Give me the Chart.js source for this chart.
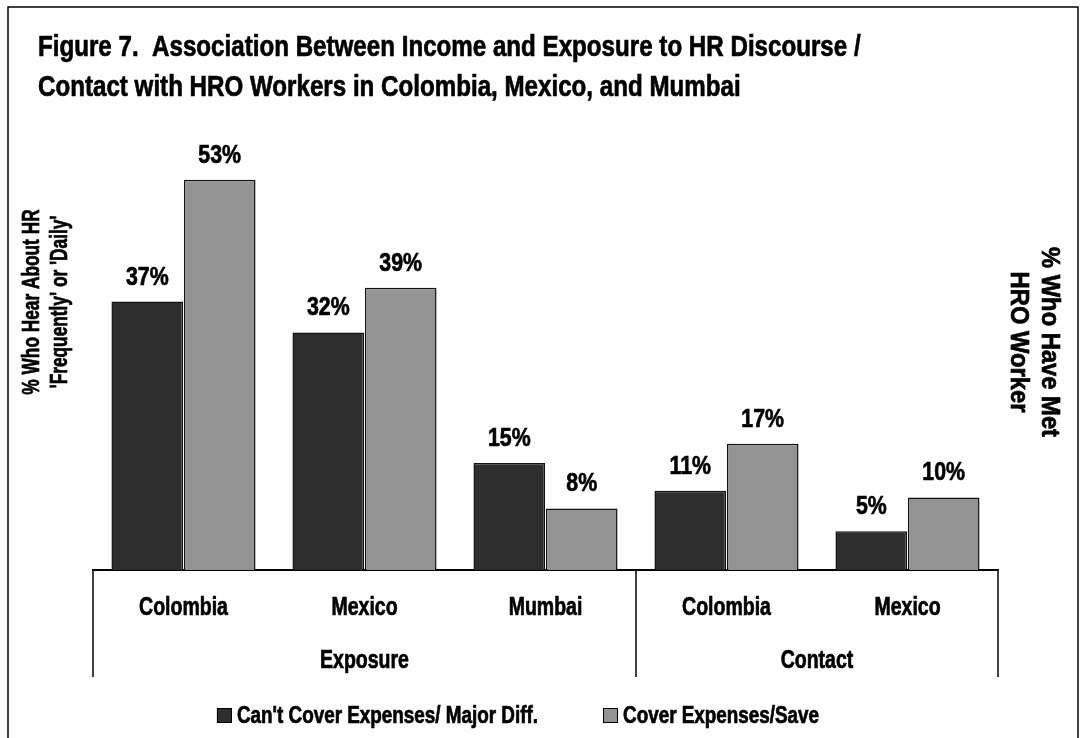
<!DOCTYPE html>
<html>
<head>
<meta charset="utf-8">
<script src="https://cdn.jsdelivr.net/npm/chart.js@4.4.1/dist/chart.umd.min.js"></script>
<style>
  html, body { margin: 0; padding: 0; background: #fff; }
  #wrap { width: 1082px; height: 738px; }
</style>
</head>
<body>
<div id="wrap"><canvas id="bars"></canvas></div>
<script>
// values (bar heights; labels are rounded)
var categories = ['Colombia', 'Mexico', 'Mumbai', 'Colombia', 'Mexico'];
var groupNames = ['Exposure', 'Contact'];
var groupSizes = [3, 2];
var cantCover = [36.6, 32.4, 14.6, 10.8, 5.3];
var coverSave = [53.2, 38.5, 8.4, 17.2, 9.9];
var seriesNames = ["Can't Cover Expenses/ Major Diff.", 'Cover Expenses/Save'];
var titleLines = [
  'Figure 7.  Association Between Income and Exposure to HR Discourse /',
  'Contact with HRO Workers in Colombia, Mexico, and Mumbai'
];
var leftTitle = ['% Who Hear About HR', "'Frequently' or 'Daily'"];
var rightTitle = ['% Who Have Met', 'HRO Worker'];

// no narrow font installed, so a squeezed Liberation Sans Bold stands in for Arial Narrow
const FONT = "'Liberation Sans', Arial, sans-serif";

function squeezed(c, s, x, y, size, sx, align, rot) {
  c.save();
  c.font = 'bold ' + size + 'px ' + FONT;
  c.textAlign = align || 'center';
  c.translate(x, y);
  if (rot) c.rotate(rot);
  c.scale(sx, 1);
  c.fillText(s, 0, 0);
  // a thin stroke makes it closer to the heavy condensed face of the original
  c.strokeStyle = c.fillStyle;
  c.lineWidth = 0.7;
  c.strokeText(s, 0, 0);
  c.restore();
}

const extras = {
  id: 'extras',
  beforeDraw(chart) {
    const c = chart.ctx;
    c.save();
    c.fillStyle = '#fff';
    c.fillRect(0, 0, chart.width, chart.height);
    c.strokeStyle = '#000';
    c.lineWidth = 1.5;
    c.strokeRect(8, 7, 1070, 760);
    c.restore();
  },
  afterDraw(chart) {
    const c = chart.ctx;
    const x = chart.scales.x;
    const area = chart.chartArea;
    c.save();
    c.fillStyle = '#000';
    c.textBaseline = 'alphabetic';

    // title
    titleLines.forEach((t, i) => squeezed(c, t, 38, 56 + i * 40, 30, 0.805, 'left'));

    // value labels
    chart.data.datasets.forEach((ds, di) => {
      chart.getDatasetMeta(di).data.forEach((bar, i) => {
        squeezed(c, Math.round(ds.data[i]) + '%', bar.x, bar.y - 17, 26, 0.82);
      });
    });

    // category labels
    categories.forEach((lab, i) => squeezed(c, lab, x.getPixelForValue(i), area.bottom + 45, 25, 0.78));

    // group separators and group names
    const half = (x.getPixelForValue(1) - x.getPixelForValue(0)) / 2;
    c.strokeStyle = '#000';
    c.lineWidth = 1.5;
    let start = 0;
    const edges = [x.getPixelForValue(0) - half];
    groupSizes.forEach((n, g) => {
      const l = x.getPixelForValue(start) - half;
      const r = x.getPixelForValue(start + n - 1) + half;
      edges.push(r);
      squeezed(c, groupNames[g], (l + r) / 2, area.bottom + 98, 25, 0.78);
      start += n;
    });
    edges.forEach(e => {
      c.beginPath();
      c.moveTo(e, area.bottom);
      c.lineTo(e, area.bottom + 107);
      c.stroke();
    });

    // side titles
    c.textBaseline = 'middle';
    squeezed(c, leftTitle[0], 32, 302, 24, 0.72, 'center', -Math.PI / 2);
    squeezed(c, leftTitle[1], 60, 302, 24, 0.72, 'center', -Math.PI / 2);
    squeezed(c, rightTitle[0], 1049, 342, 25, 0.95, 'center', Math.PI / 2);
    squeezed(c, rightTitle[1], 1018, 342, 25, 0.95, 'center', Math.PI / 2);

    // legend
    c.textBaseline = 'alphabetic';
    c.font = 'bold 23px ' + FONT;
    const lsx = 0.82, box = 15, gapText = 5, gapItem = 65;
    const widths = chart.data.datasets.map(ds => box + gapText + c.measureText(ds.label).width * lsx);
    const total = widths.reduce((a, b) => a + b, 0) + gapItem * (widths.length - 1);
    let lx = 518 - total / 2;
    const ly = 723;
    chart.data.datasets.forEach((ds, di) => {
      c.fillStyle = ds.backgroundColor;
      c.fillRect(lx, ly - 15, box, box);
      c.strokeStyle = '#000';
      c.lineWidth = 1;
      c.strokeRect(lx + 0.5, ly - 14.5, box - 1, box - 1);
      c.fillStyle = '#000';
      squeezed(c, ds.label, lx + box + gapText, ly, 23, lsx, 'left');
      lx += widths[di] + gapItem;
    });
    c.restore();
  }
};

const barConfig = {
  type: 'bar',
  data: {
    labels: categories,
    datasets: [
      {
        label: seriesNames[0],
        data: cantCover,
        backgroundColor: '#2e2e2e',
        borderColor: '#111',
        borderWidth: 1.5,
      },
      {
        label: seriesNames[1],
        data: coverSave,
        backgroundColor: '#939393',
        borderColor: '#111',
        borderWidth: 1.5,
      },
    ],
  },
  options: {
    responsive: true,
    maintainAspectRatio: false,
    animation: false,
    layout: { padding: { left: 38, right: 10, top: 130, bottom: 61 } },
    datasets: { bar: { categoryPercentage: 0.8, barPercentage: 0.99 } },
    plugins: {
      legend: { display: false },
      tooltip: { enabled: false },
      title: { display: false },
    },
    scales: {
      x: {
        grid: { display: false, drawTicks: false },
        border: { display: true, color: '#000', width: 2 },
        ticks: { display: false },
        afterFit: (s) => { s.height = 107; },
      },
      y: {
        min: 0,
        max: 60,
        grid: { display: false },
        border: { display: false },
        ticks: { display: false },
        afterFit: (s) => { s.width = 55; },
      },
      y2: {
        position: 'right',
        min: 0,
        max: 60,
        grid: { display: false },
        border: { display: false },
        ticks: { display: false },
        afterFit: (s) => { s.width = 74; },
      },
    },
  },
  plugins: [extras],
};

const barCtx = document.getElementById('bars');
window.myBars = new Chart(barCtx, barConfig);
</script>
</body>
</html>
